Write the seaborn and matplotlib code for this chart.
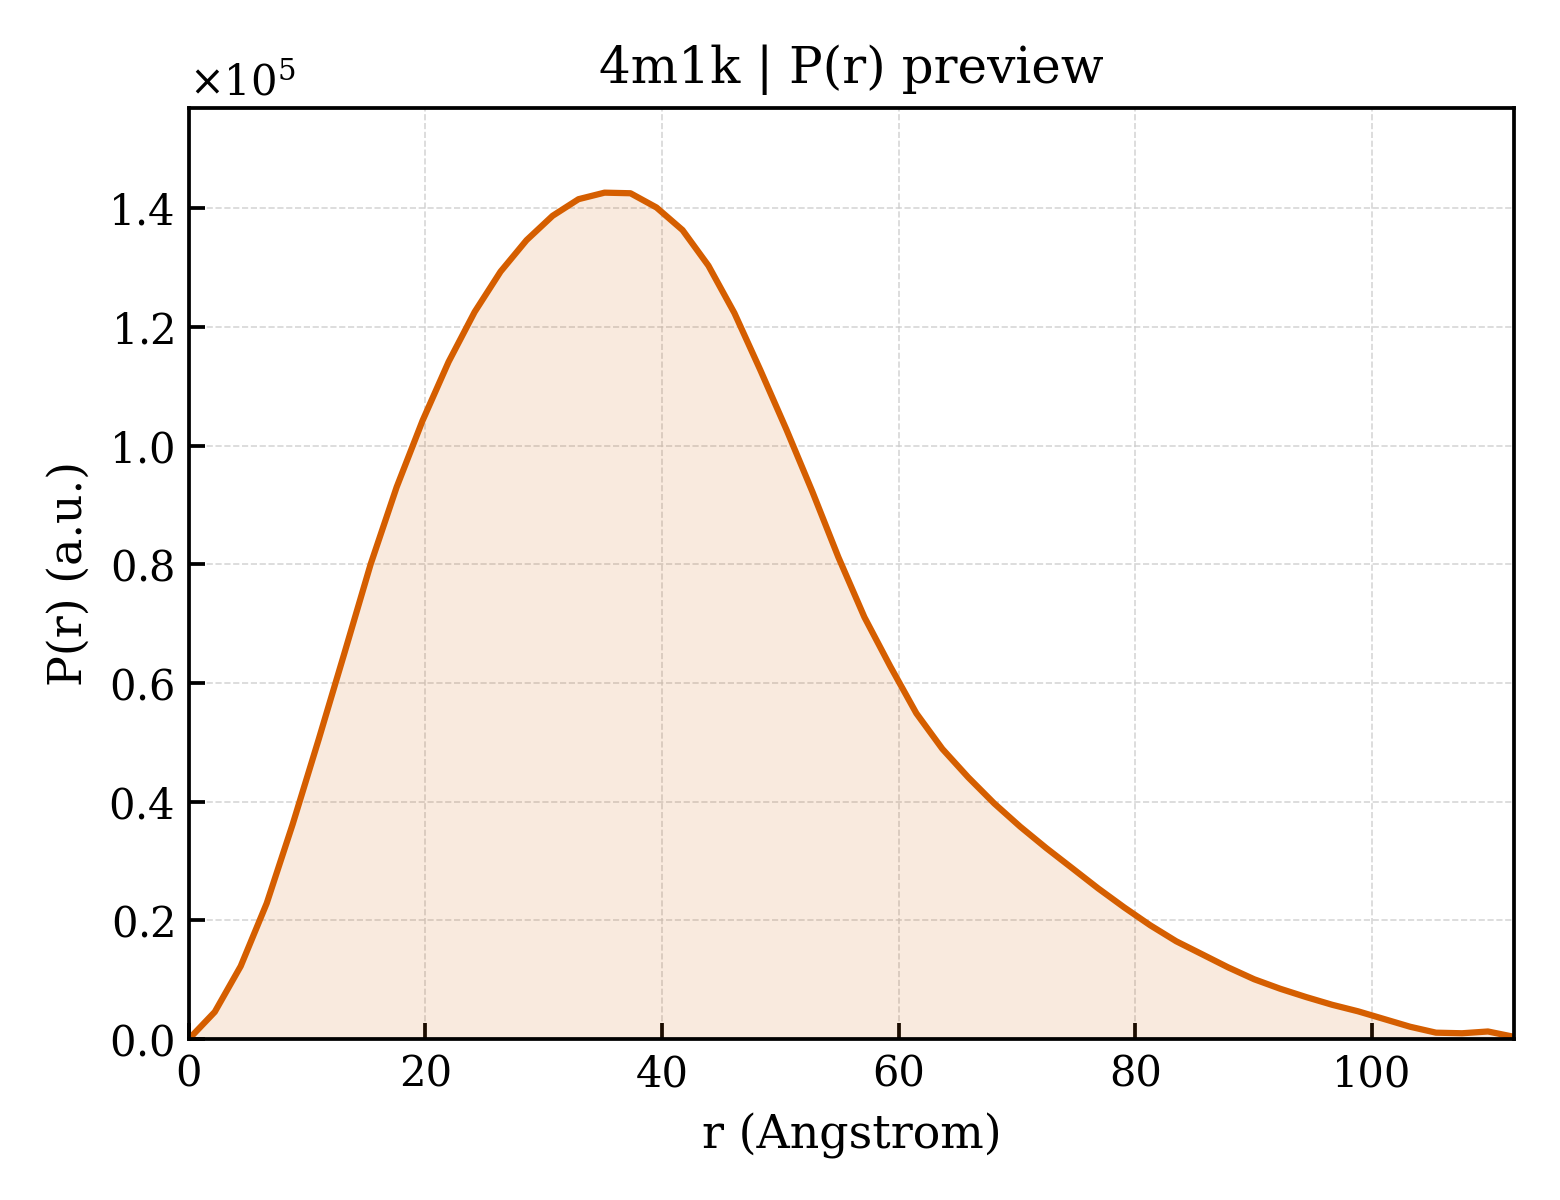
import numpy as np
import pandas as pd
import matplotlib
matplotlib.use("Agg")
import matplotlib.pyplot as plt
import seaborn as sns

r_vals = [0.00, 2.20, 4.39, 6.59, 8.78, 10.98, 13.18, 15.37, 17.57, 19.76,
          21.96, 24.16, 26.35, 28.55, 30.75, 32.94, 35.14, 37.33, 39.53, 41.73,
          43.92, 46.12, 48.31, 50.51, 52.71, 54.90, 57.10, 59.29, 61.49, 63.69,
          65.88, 68.08, 70.27, 72.47, 74.67, 76.86, 79.06, 81.25, 83.45, 85.65,
          87.84, 90.04, 92.24, 94.43, 96.63, 98.82, 101.02, 103.22, 105.41, 107.61,
          109.80, 112.00]
pr_vals = [0, 4600, 12300, 22900, 36200, 50500, 65200, 80000, 93000, 104200,
           114100, 122500, 129300, 134600, 138700, 141500, 142600, 142500, 140100, 136300,
           130300, 122300, 112700, 102700, 92200, 81200, 71100, 62800, 54900, 48900,
           44100, 39700, 35800, 32200, 28800, 25400, 22200, 19200, 16500, 14300,
           12100, 10100, 8500, 7100, 5800, 4700, 3400, 2100, 1100, 1000,
           1300, 400]

df = pd.DataFrame({"r": r_vals, "pr": pr_vals})
line_color = "#D55E00"

sns.set_style("white")
plt.rcParams["font.family"] = ["DejaVu Serif"]
plt.rcParams["mathtext.fontset"] = "dejavuserif"
plt.rcParams["text.color"] = "black"
plt.rcParams["axes.labelcolor"] = "black"
plt.rcParams["xtick.color"] = "black"
plt.rcParams["ytick.color"] = "black"

fig = plt.figure(figsize=(5.2, 4), dpi=300)
ax = fig.add_axes([0.121, 0.134, 0.8495, 0.776])

ax.fill_between(df["r"], df["pr"], 0, color=line_color, alpha=0.13, linewidth=0)
sns.lineplot(data=df, x="r", y="pr", color=line_color, linewidth=1.5, ax=ax,
             sort=False, estimator=None)

ax.set_xlim(0, 112)
ax.set_ylim(0, max(pr_vals) * 1.1)
ax.ticklabel_format(axis="y", style="sci", scilimits=(0, 0), useMathText=True)
ax.yaxis.get_offset_text().set_fontsize(10)
ax.yaxis.get_offset_text().set_color("black")

ax.grid(True, linestyle="--", linewidth=0.4, color="#cccccc", alpha=0.8)
ax.set_axisbelow(True)
ax.tick_params(direction="in", length=3.8, width=0.9, labelsize=10,
               bottom=True, left=True, top=False, right=False, colors="black")
for s in ax.spines.values():
    s.set_linewidth(0.9)
    s.set_color("black")

ax.set_title("4m1k | P(r) preview", fontsize=12, color="black")
ax.set_xlabel("r (Angstrom)", fontsize=11)
ax.set_ylabel("P(r) (a.u.)", fontsize=11)

fig.savefig("out.png", dpi=300)
